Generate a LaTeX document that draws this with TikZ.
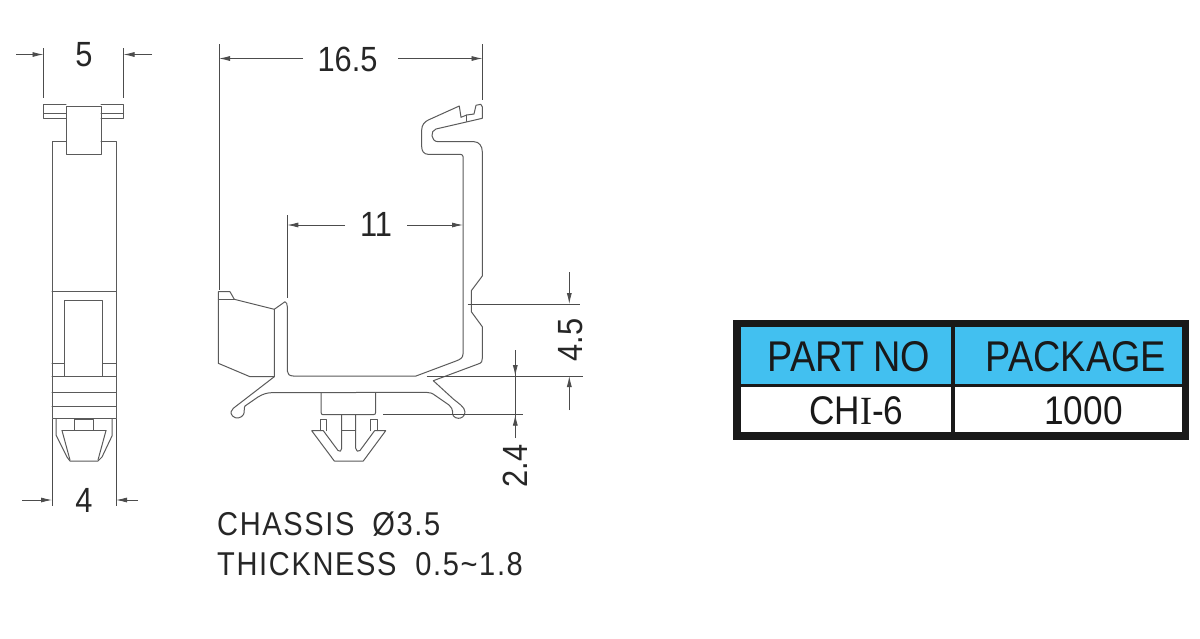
\documentclass[tikz,border=0pt]{standalone}
\usepackage{fontspec}
\usetikzlibrary{arrows.meta}
\newfontfamily\dimf[FakeStretch=0.88]{Liberation Sans}
\newfontfamily\notef[FakeStretch=0.88,LetterSpace=5]{Liberation Sans}
\newfontfamily\serf[FakeStretch=0.9]{Liberation Serif}
\definecolor{lineg}{HTML}{5A5A5A}
\definecolor{headblue}{HTML}{42C0F0}
\tikzset{
  part/.style={draw=lineg,line width=1pt,line join=round,line cap=round},
  dimline/.style={draw=black!70,line width=0.8pt},
  tip/.style={dimline,-{Latex[length=11pt,width=5pt]}},
  dimtext/.style={font=\dimf\fontsize{35}{35}\selectfont,text=black!85,inner sep=0pt},
  notetext/.style={font=\notef\fontsize{33}{33}\selectfont,text=black!85,inner sep=0pt,anchor=west},
  headtext/.style={font=\dimf\fontsize{43}{43}\selectfont,text=black!90,inner sep=0pt},
  celltext/.style={font=\dimf\fontsize{40}{40}\selectfont,text=black!90,inner sep=0pt},
}
\begin{document}
\begin{tikzpicture}[x=1pt,y=-1pt]
\useasboundingbox (0,0) rectangle (1200,638);
\fill[white] (0,0) rectangle (1200,638);
% ---------- side view
\draw[part] (66,104.5) -- (43.5,104.5) -- (43.5,118) -- (66,118);
\draw[part] (101,104.5) -- (123.5,104.5) -- (123.5,118) -- (101,118);
\draw[part] (43.5,113) -- (66,113) (101,113) -- (123.5,113);
\draw[part] (66,106) rectangle (101,154);
\draw[part] (66,141) -- (52,141) -- (52,418) -- (116,418) -- (116,141) -- (101,141);
\draw[part] (52,291.5) -- (116,291.5);
\draw[part] (64.5,376) -- (64.5,300) -- (102.5,300) -- (102.5,376);
\draw[part] (52,363) -- (64.5,363) (102.5,363) -- (116,363);
\draw[part] (52,376) -- (116,376) (52,392.5) -- (116,392.5) (52,406.5) -- (116,406.5);
\draw[part] (56,419) -- (56,435) -- (67,457) -- (70,461) -- (98,461) -- (102,457) -- (112,436) -- (112,419);
\draw[part] (62,430.5) -- (106,430.5);
\draw[part] (62,430.5) -- (70,460) (106,430.5) -- (98,460);
\draw[part] (74.5,430) -- (74.5,419.5) -- (93,419.5) -- (93,430);
% dims 5 and 4
\draw[dimline] (43.5,48) -- (43.5,98) (123.5,48) -- (123.5,98);
\draw[tip] (16,54.5) -- (43.5,54.5);
\draw[tip] (152,54.5) -- (123.5,54.5);
\node[dimtext] (d5) at (84,54.5) {5};
\draw[dimline] (52,419) -- (52,506) (116,419) -- (116,506);
\draw[tip] (22,500) -- (52,500);
\draw[tip] (138,500) -- (116,500);
\node[dimtext] (d4) at (84,500.5) {4};
% ---------- main profile
\draw[part] (463,175) -- (463,156.5) .. controls (463,155) and (461.5,154.3) .. (460,154.3)
  -- (428,154.3) .. controls (424,154.3) and (421.7,151) .. (421.7,146.7)
  -- (421.7,130) .. controls (421.7,125) and (424.5,121.8) .. (428.3,120)
  -- (459.3,106) -- (461,117.3) -- (466.7,115) -- (474,114) -- (476,105.3) -- (480.7,104.3) -- (482.3,106.7)
  -- (482.3,118.3) -- (436,129) .. controls (430,130.5) and (430.5,141.7) .. (438.3,141.7)
  -- (474,141.7) .. controls (479,141.7) and (482.3,146) .. (482.3,151.7)
  -- (482.3,276) -- (471.3,290.7) -- (471.3,311.7) -- (482.3,326.7) -- (482.3,358.3)
  .. controls (482.3,361) and (481.5,362.7) .. (480,363.3)
  -- (433.3,380.7) -- (453.3,399) .. controls (458,403) and (465,407) .. (465,412)
  .. controls (465,416) and (461.5,418.5) .. (458.3,418.3)
  .. controls (454,418) and (452,415) .. (452.7,412) .. controls (453,409.5) and (451,407) .. (449,405)
  -- (436,396) .. controls (432,393) and (430,392.4) .. (426.7,392.4)
  -- (273.3,392.6) .. controls (267,392.6) and (263,394) .. (258,397)
  -- (245,406) .. controls (243.5,408) and (245,412) .. (243.5,414.5)
  .. controls (241.5,418) and (236,419.5) .. (232.5,416)
  .. controls (230,413) and (231,410) .. (233.3,408.3)
  -- (274.3,376.7) -- (274.3,309.3) -- (285,301.7) .. controls (286.5,302.5) and (287.3,304) .. (287.3,306.7)
  -- (287.3,371) .. controls (287.3,374) and (289.5,376) .. (293.3,376)
  -- (416,376) -- (456,361) .. controls (460,359.5) and (463,358) .. (463,354)
  -- (463,175);
\draw[part] (466.7,115) -- (466.7,121.3);
% clamp
\draw[part] (274.3,376.7) -- (250,376.7) -- (218.3,363.3) -- (218.3,291.7) -- (230,291.7) -- (234.3,299.3) -- (274.3,309.3);
\draw[part] (218.3,299.3) -- (234.3,299.3);
% base & pin
\draw[part] (321,392.6) -- (321,412) .. controls (321,414) and (322,414.7) .. (323,414.7) -- (373,414.7) .. controls (375,414.7) and (375.7,414) .. (375.7,412) -- (375.7,392.6);
\draw[part] (341.7,414.7) -- (341.7,448.3) .. controls (341.7,451) and (339.5,452.5) .. (338,450.5)
  -- (323.3,430.7) -- (311.7,430.7) -- (334.3,461) -- (363.3,461) -- (385.7,430.7) -- (374.6,430.7)
  -- (360,450.5) .. controls (358.5,452.5) and (355.7,451) .. (355.7,448.3) -- (355.7,414.7);
\draw[part] (341.7,430) -- (355.7,430);
\draw[part] (320,430.7) -- (320,419.3) -- (326.7,419.3) -- (326.7,430.7);
\draw[part] (370.7,430.7) -- (370.7,419.3) -- (377.3,419.3) -- (377.3,430.7);
% dim 16.5
\draw[dimline] (219,44) -- (219,290) (482.5,44) -- (482.5,100);
\draw[tip] (303,58.5) -- (219,58.5);
\draw[tip] (398,58.5) -- (482.5,58.5);
\node[dimtext] (d165) at (347.5,59) {16.5};
% dim 11
\draw[dimline] (287.3,215) -- (287.3,298);
\draw[tip] (345,225) -- (287.3,225);
\draw[tip] (407,225) -- (463,225);
\node[dimtext] (d11) at (376,224.5) {11};
% dim 4.5
\draw[dimline] (467.7,304) -- (580,304) (426.7,376) -- (583,376);
\draw[tip] (569.3,272) -- (569.3,304);
\draw[tip] (569.3,410) -- (569.3,376);
\node[dimtext,rotate=90] (d45) at (570.5,340) {4.5};
% dim 2.4
\draw[dimline] (383.3,414.7) -- (523,414.7);
\draw[dimline] (515.3,350) -- (515.3,438);
\draw[tip] (515.3,350) -- (515.3,376);
\draw[tip] (515.3,438) -- (515.3,414.7);
\node[dimtext,rotate=90] (d24) at (515,466) {2.4};
% notes
\node[notetext] (n1) at (217,524) {CHASSIS\hspace{8pt} Ø3.5};
\node[notetext] (n2) at (217,564) {THICKNESS\hspace{9pt} 0.5\textasciitilde1.8};
% ---------- table
\fill[black!90] (733.3,320) rectangle (1189,440);
\fill[white] (741,327.3) rectangle (1181.7,432.3);
\fill[headblue] (741,327.3) rectangle (1181.7,383.7);
\fill[black!90] (741,383.7) rectangle (1181.7,387.3);
\fill[black!90] (950.7,327.3) rectangle (955,432.3);
\node[headtext] (h1) at (849,356.5) {PART\hspace{-2pt} NO};
\node[headtext] (h2) at (1076,356.5) {PACKAGE};
\node[celltext] (c1) at (856.5,411) {CH{\serf I}-6};
\node[celltext] (c2) at (1083.5,411) {1000};
\end{tikzpicture}
\end{document}
